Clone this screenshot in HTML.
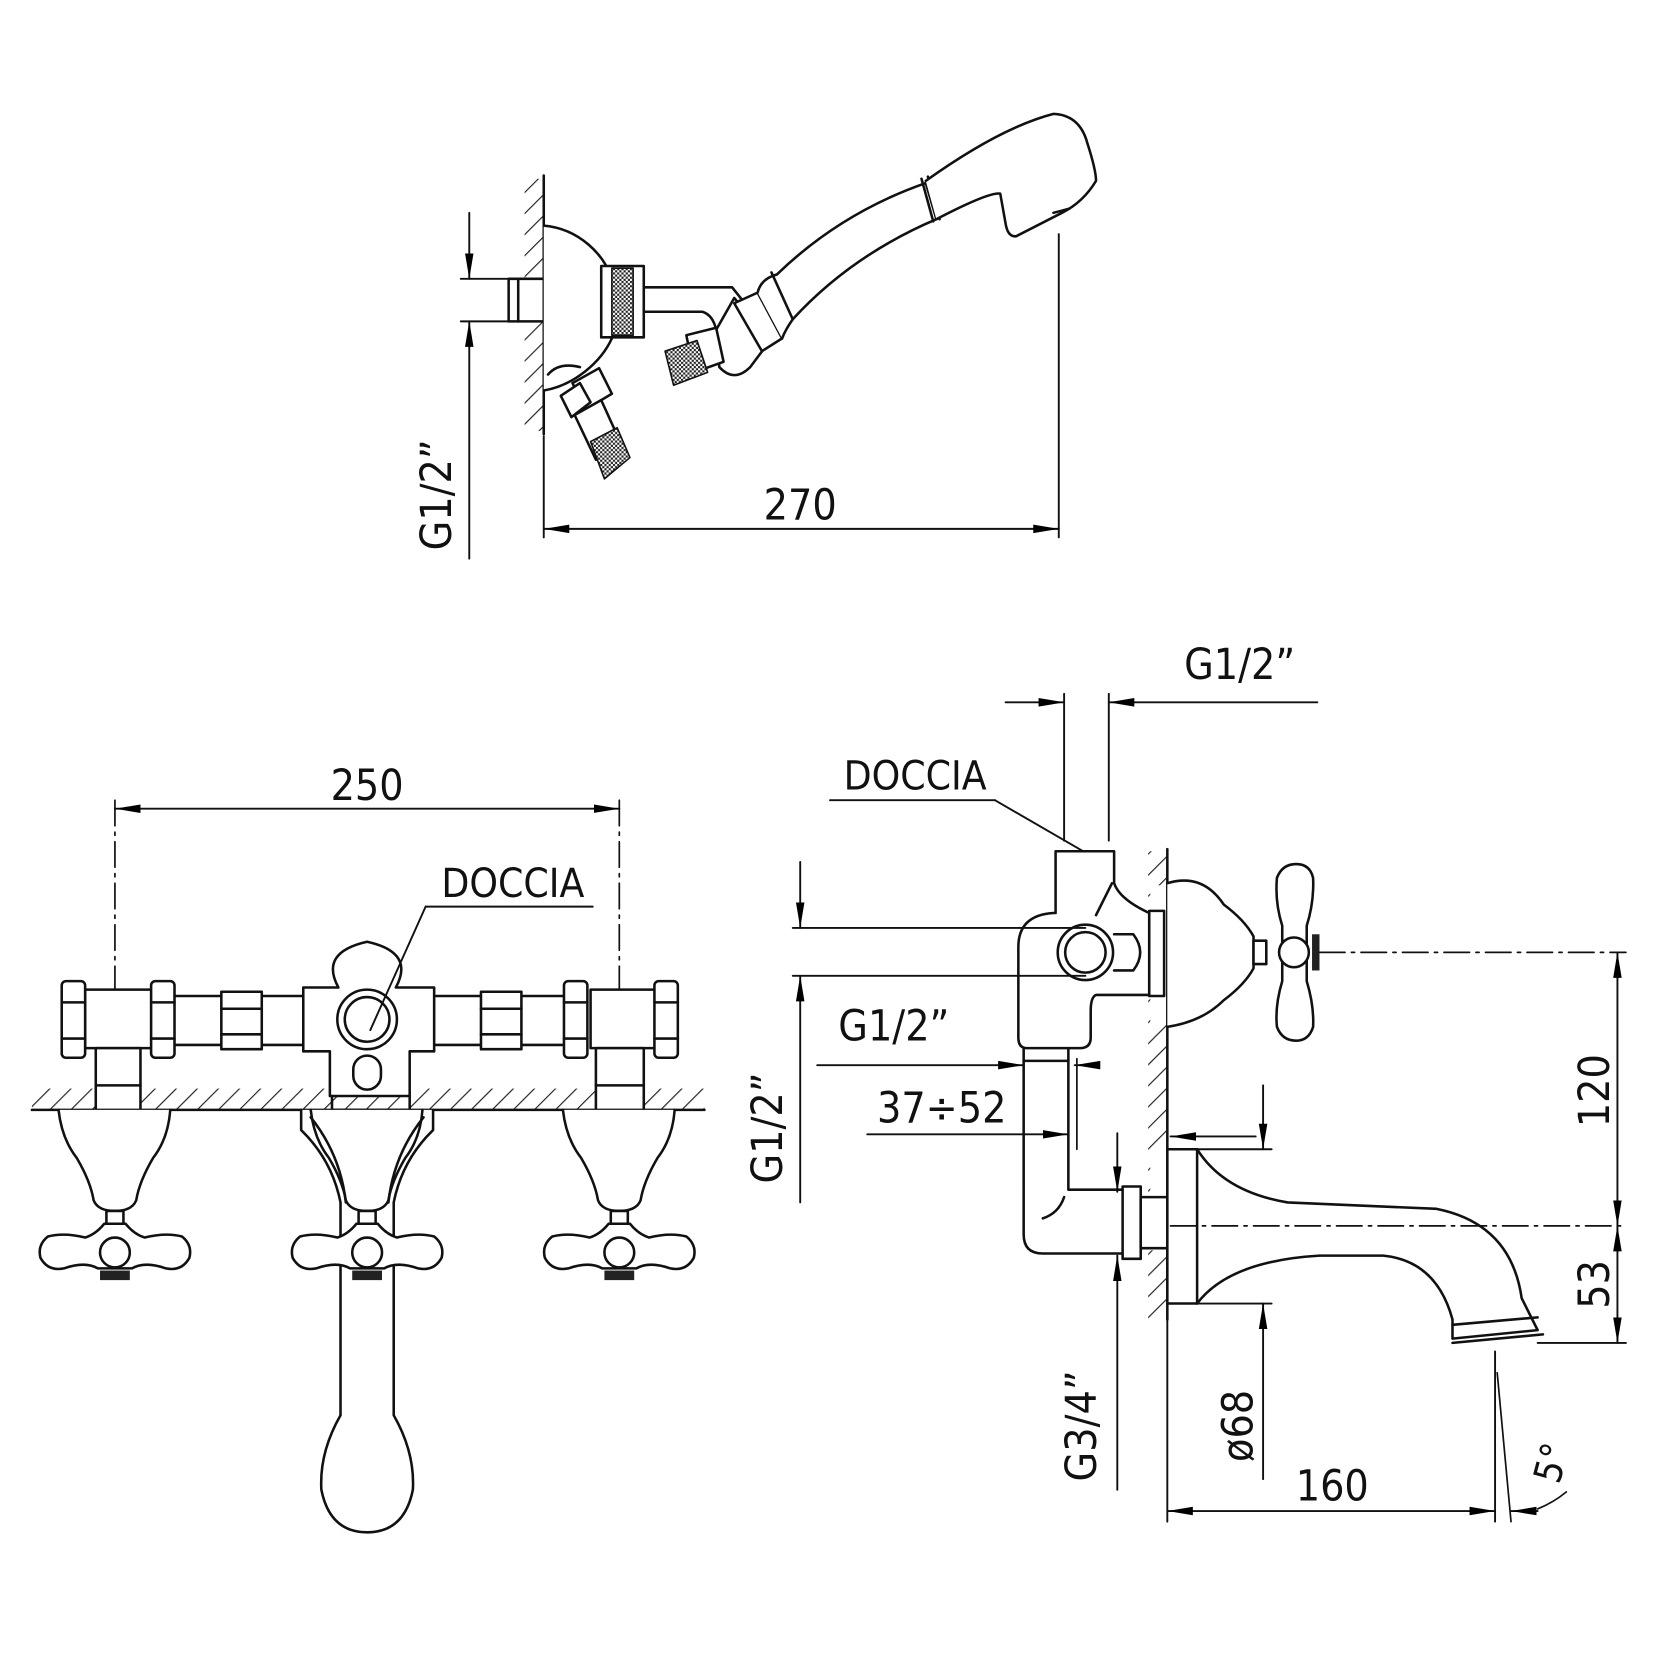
<!DOCTYPE html>
<html><head><meta charset="utf-8"><style>
html,body{margin:0;padding:0;background:#fff}
svg{display:block}
text{font-family:"DejaVu Sans Condensed","Liberation Sans",sans-serif;fill:#111}
</style></head><body>
<svg width="1660" height="1660" viewBox="0 0 1560 1560" xmlns="http://www.w3.org/2000/svg">
<defs>
<marker id="a" viewBox="0 0 24 10" refX="24" refY="5" markerWidth="24" markerHeight="10" markerUnits="userSpaceOnUse" orient="auto-start-reverse"><path d="M0,1 L24,5 L0,9z" fill="#000"/></marker>
<pattern id="h" width="14" height="14" patternUnits="userSpaceOnUse" patternTransform="rotate(45)"><line x1="0" y1="0" x2="0" y2="14" stroke="#222" stroke-width="2.2"/></pattern>
<pattern id="thr" width="4" height="4" patternUnits="userSpaceOnUse"><rect width="4" height="4" fill="#fff"/><rect width="2" height="2" fill="#222"/><rect x="2" y="2" width="2" height="2" fill="#222"/></pattern>
</defs>
<g fill="none" stroke="#111" stroke-width="2.4" stroke-linejoin="round" stroke-linecap="round">

<!-- ============ TOP VIEW ============ -->
<rect x="493" y="168" width="18" height="237" fill="url(#h)" stroke="none"/>
<line x1="511" y1="165" x2="511" y2="408"/>
<!-- G1/2 dim -->
<line x1="441" y1="200" x2="441" y2="262" marker-end="url(#a)" stroke-width="1.8"/>
<line x1="441" y1="525" x2="441" y2="302" marker-end="url(#a)" stroke-width="1.8"/>
<line x1="433" y1="262" x2="478" y2="262" stroke-width="1.8"/>
<line x1="433" y1="302" x2="478" y2="302" stroke-width="1.8"/>
<rect x="478" y="262" width="33" height="40" fill="#fff"/>
<line x1="487" y1="262" x2="487" y2="302"/>
<!-- dome -->
<path d="M511,212 C545,215 568,240 575,262 L575,318 C565,340 540,362 511,367" fill="#fff"/>
<!-- nut -->
<rect x="565" y="250" width="40" height="67" fill="#fff"/>
<rect x="575" y="252" width="20" height="63" fill="url(#thr)" stroke-width="1.5"/>
<!-- arm -->
<path d="M605,270 L688,270 L700,285 M605,293 L660,293 Q670,296 673,310"/>
<!-- elbow -->
<path d="M673,310 L676,345 Q690,360 705,345 L720,325 L700,292 L690,280 Z" fill="#fff"/>
<path d="M690,285 L712,275 L735,318 L716,330 Z" fill="#fff"/>
<!-- threaded stub -->
<path d="M645,315 L673,308 L680,340 L652,350 Z" fill="#fff"/>
<path d="M625,330 L655,320 L665,350 L633,362 Z" fill="url(#thr)" stroke-width="1.5"/>
<!-- handle -->
<path d="M712,275 Q715,262 730,258 Q790,200 870,172 L880,206 Q800,240 745,300 Q738,310 735,318" fill="#fff"/>
<line x1="725" y1="256" x2="745" y2="300"/>
<path d="M866,168 L877,208 M872,166 L883,206"/>
<path d="M870,170 Q940,120 990,107 Q1015,108 1022,135 Q1030,160 1030,170 Q1018,190 998,200 L955,222 Q947,223 945,210 L940,182 Q930,180 880,206" fill="#fff"/>
<path d="M990,200 Q998,198 1005,196"/>
<!-- lower connector -->
<path d="M538,360 L563,346 L575,370 L550,385 Z" fill="#fff"/>
<path d="M527,372 L545,360 L555,378 L537,392 Z" fill="#fff"/>
<path d="M515,352 Q525,340 545,345"/>
<path d="M540,390 L565,376 L585,420 L560,432 Z" fill="#fff"/>
<path d="M555,415 L580,402 L592,430 L568,450 Z" fill="url(#thr)" stroke-width="1.5"/>
<!-- 270 dim -->
<line x1="995" y1="220" x2="995" y2="505" stroke-width="1.8"/>
<line x1="511" y1="410" x2="511" y2="505" stroke-width="1.8"/>
<line x1="511" y1="497" x2="995" y2="497" marker-start="url(#a)" marker-end="url(#a)" stroke-width="1.8"/>

<!-- ============ BOTTOM LEFT ============ -->
<line x1="108" y1="752" x2="108" y2="1043" stroke-width="1.6" stroke-dasharray="24,6,3,6"/>
<line x1="582" y1="752" x2="582" y2="1043" stroke-width="1.6" stroke-dasharray="24,6,3,6"/>
<line x1="108" y1="760" x2="582" y2="760" marker-start="url(#a)" marker-end="url(#a)" stroke-width="1.8"/>
<!-- wall -->
<rect x="30" y="1023" width="632" height="20" fill="url(#h)" stroke="none"/>
<line x1="30" y1="1043" x2="662" y2="1043"/>
<!-- pipes -->
<rect x="160" y="936" width="128" height="46" fill="#fff"/>
<rect x="405" y="936" width="130" height="46" fill="#fff"/>
<rect x="208" y="932" width="38" height="54" fill="#fff"/>
<rect x="452" y="932" width="38" height="54" fill="#fff"/>
<line x1="208" y1="948" x2="246" y2="948"/><line x1="208" y1="972" x2="246" y2="972"/>
<line x1="452" y1="948" x2="490" y2="948"/><line x1="452" y1="972" x2="490" y2="972"/>
<!-- left valve -->
<rect x="80" y="930" width="65" height="55" fill="#fff"/>
<rect x="58" y="922" width="22" height="72" rx="4" fill="#fff"/>
<rect x="142" y="922" width="22" height="72" rx="4" fill="#fff"/>
<line x1="58" y1="942" x2="80" y2="942"/><line x1="58" y1="976" x2="80" y2="976"/>
<line x1="142" y1="942" x2="164" y2="942"/><line x1="142" y1="976" x2="164" y2="976"/>
<rect x="90" y="985" width="42" height="58" fill="#fff"/>
<line x1="90" y1="1020" x2="132" y2="1020"/>
<!-- right valve -->
<rect x="555" y="930" width="65" height="55" fill="#fff"/>
<rect x="530" y="922" width="22" height="72" rx="4" fill="#fff"/>
<rect x="615" y="922" width="22" height="72" rx="4" fill="#fff"/>
<line x1="530" y1="942" x2="552" y2="942"/><line x1="530" y1="976" x2="552" y2="976"/>
<line x1="615" y1="942" x2="637" y2="942"/><line x1="615" y1="976" x2="637" y2="976"/>
<rect x="560" y="985" width="45" height="58" fill="#fff"/>
<line x1="560" y1="1020" x2="605" y2="1020"/>
<!-- central body -->
<path d="M318,928 Q300,895 345,885 Q390,895 372,928 L408,928 L408,988 L385,988 L385,1030 L310,1030 L310,988 L285,988 L285,928 Z" fill="#fff"/>
<path d="M312,1030 L312,1043 L385,1043 L385,1030"/>
<circle cx="345" cy="958" r="28" fill="#fff"/>
<circle cx="345" cy="958" r="21"/>
<rect x="332" y="992" width="26" height="32" rx="13"/>
<!-- DOCCIA leader -->
<line x1="400" y1="852" x2="557" y2="852" stroke-width="1.8"/>
<line x1="400" y1="852" x2="348" y2="968" stroke-width="1.8"/>
<!-- escutcheons & handles -->
<g id="hnd">
<path d="M55,1043 Q58,1070 72,1088 Q85,1110 88,1128 Q92,1138 108,1138 Q124,1138 128,1128 Q131,1110 144,1088 Q158,1070 160,1043" fill="#fff"/>
<rect x="100" y="1138" width="16" height="12" fill="#fff"/>
<path d="M98,1150 Q90,1160 80,1163 Q60,1158 45,1162 Q35,1170 38,1182 Q45,1195 60,1192 Q80,1185 92,1192 L124,1192 Q136,1185 156,1192 Q171,1195 178,1182 Q181,1170 171,1162 Q156,1158 136,1163 Q126,1160 118,1150 Z" fill="#fff"/>
<circle cx="108" cy="1177" r="14" fill="#fff"/>
<rect x="94" y="1194" width="28" height="9" fill="#222" stroke="none"/>
</g>
<use href="#hnd" x="474"/>
<!-- centre spout -->
<path d="M283,1043 L283,1062 Q312,1090 320,1130 L320,1330 Q300,1365 302,1400 Q310,1440 345,1440 Q380,1440 388,1400 Q390,1365 370,1330 L370,1130 Q378,1090 407,1062 L407,1043" fill="#fff"/>
<path d="M292,1050 Q320,1085 325,1130 M398,1050 Q370,1085 365,1130"/>
<g transform="translate(237,0)">
<path d="M55,1043 Q58,1070 72,1088 Q85,1110 88,1128 Q92,1138 108,1138 Q124,1138 128,1128 Q131,1110 144,1088 Q158,1070 160,1043" fill="none"/>
<rect x="100" y="1138" width="16" height="12" fill="#fff"/>
<path d="M98,1150 Q90,1160 80,1163 Q60,1158 45,1162 Q35,1170 38,1182 Q45,1195 60,1192 Q80,1185 92,1192 L124,1192 Q136,1185 156,1192 Q171,1195 178,1182 Q181,1170 171,1162 Q156,1158 136,1163 Q126,1160 118,1150 Z" fill="#fff"/>
<circle cx="108" cy="1177" r="14" fill="#fff"/>
<rect x="94" y="1194" width="28" height="9" fill="#222" stroke="none"/>
</g>

<!-- ============ RIGHT VIEW ============ -->
<!-- top G1/2 dim -->
<line x1="945" y1="660" x2="1000" y2="660" marker-end="url(#a)" stroke-width="1.8"/>
<line x1="1238" y1="660" x2="1042" y2="660" marker-end="url(#a)" stroke-width="1.8"/>
<line x1="1000" y1="652" x2="1000" y2="790" stroke-width="1.8"/>
<line x1="1042" y1="652" x2="1042" y2="790" stroke-width="1.8"/>
<!-- DOCCIA -->
<line x1="780" y1="752" x2="935" y2="752" stroke-width="1.8"/>
<line x1="935" y1="752" x2="1018" y2="800" stroke-width="1.8"/>
<!-- wall -->
<rect x="1079" y="800" width="18" height="440" fill="url(#h)" stroke="none"/>
<rect x="1081" y="832" width="18" height="130" fill="#fff" stroke="none"/>
<rect x="1081" y="1080" width="18" height="95" fill="#fff" stroke="none"/>
<line x1="1097" y1="798" x2="1097" y2="1240"/>
<!-- body -->
<path d="M992,800 L1047,800 L1047,830 Q1052,845 1080,858 L1080,935 L1030,935 Q1025,937 1025,950 L1025,975 Q1025,985 1015,985 L965,985 Q957,985 957,975 L957,890 Q957,860 990,858 L992,858 Z" fill="#fff"/>
<rect x="1080" y="856" width="14" height="80" fill="#fff"/>
<circle cx="1020" cy="895" r="26" fill="#fff"/>
<circle cx="1020" cy="895" r="19"/>
<path d="M1047,878 L1065,878 Q1078,895 1065,912 L1047,912"/>
<line x1="1030" y1="860" x2="1045" y2="830"/>
<!-- long dims -->
<line x1="745" y1="872" x2="1020" y2="872" stroke-width="1.8"/>
<line x1="745" y1="917" x2="1020" y2="917" stroke-width="1.8"/>
<line x1="752" y1="810" x2="752" y2="872" marker-end="url(#a)" stroke-width="1.8"/>
<line x1="752" y1="1130" x2="752" y2="917" marker-end="url(#a)" stroke-width="1.8"/>
<!-- 37/52 -->
<line x1="768" y1="1001" x2="962" y2="1001" marker-end="url(#a)" stroke-width="1.8"/>
<line x1="1033" y1="1001" x2="1010" y2="1001" marker-end="url(#a)" stroke-width="1.8"/>
<line x1="815" y1="1066" x2="1004" y2="1066" marker-end="url(#a)" stroke-width="1.8"/>
<line x1="1012" y1="995" x2="1012" y2="1080" stroke-width="1.6"/>
<!-- down pipe -->
<path d="M962,985 L962,1160 Q962,1178 980,1178 L1055,1178 M1004,985 L1004,1118 L1055,1118" fill="none"/>
<line x1="962" y1="997" x2="1004" y2="997"/>
<path d="M1000,1125 Q995,1140 980,1145"/>
<rect x="1055" y="1115" width="17" height="68" fill="#fff"/>
<rect x="1072" y="1125" width="25" height="48" fill="#fff"/>
<!-- G3/4 dim -->
<line x1="1050" y1="1065" x2="1050" y2="1120" marker-end="url(#a)" stroke-width="1.8"/>
<line x1="1050" y1="1400" x2="1050" y2="1180" marker-end="url(#a)" stroke-width="1.8"/>
<!-- escutcheon top + cross -->
<path d="M1097,830 Q1130,820 1150,850 Q1170,865 1178,880 L1178,910 Q1170,925 1150,940 Q1130,960 1097,965" fill="#fff"/>
<rect x="1178" y="884" width="12" height="22" fill="#fff"/>
<path d="M1205,870 Q1198,848 1200,825 Q1205,812 1218,812 Q1231,812 1234,825 Q1235,848 1228,870 L1228,922 Q1235,945 1234,965 Q1230,978 1218,978 Q1205,978 1200,965 Q1198,945 1205,922 Z" fill="#fff"/>
<circle cx="1216" cy="895" r="14" fill="#fff"/>
<rect x="1233" y="878" width="7" height="34" fill="#222" stroke="none"/>
<line x1="1240" y1="895" x2="1528" y2="895" stroke-width="1.6" stroke-dasharray="24,6,3,6"/>
<!-- spout -->
<rect x="1097" y="1080" width="28" height="145" fill="#fff"/>
<path d="M1125,1080 Q1150,1120 1210,1130 L1350,1136 Q1420,1150 1430,1220 L1445,1250 L1365,1258 L1365,1240 Q1350,1185 1300,1180 L1240,1180 Q1155,1185 1125,1225"/>
<path d="M1365,1245 L1445,1238 M1365,1262 L1450,1254"/>
<line x1="1100" y1="1152" x2="1528" y2="1152" stroke-width="1.6" stroke-dasharray="24,6,3,6"/>
<!-- spout dims -->
<line x1="1125" y1="1080" x2="1195" y2="1080" stroke-width="1.8"/>
<line x1="1180" y1="1068" x2="1100" y2="1068" marker-end="url(#a)" stroke-width="1.8"/>
<line x1="1187" y1="1020" x2="1187" y2="1080" marker-end="url(#a)" stroke-width="1.8"/>
<line x1="1125" y1="1225" x2="1195" y2="1225" stroke-width="1.8"/>
<line x1="1187" y1="1390" x2="1187" y2="1225" marker-end="url(#a)" stroke-width="1.8"/>
<!-- 120 / 53 -->
<line x1="1520" y1="895" x2="1520" y2="1152" marker-start="url(#a)" marker-end="url(#a)" stroke-width="1.8"/>
<line x1="1520" y1="1152" x2="1520" y2="1262" marker-start="url(#a)" marker-end="url(#a)" stroke-width="1.8"/>
<line x1="1445" y1="1262" x2="1528" y2="1262" stroke-width="1.8"/>
<!-- 160 -->
<line x1="1097" y1="1240" x2="1097" y2="1430" stroke-width="1.8"/>
<line x1="1405" y1="1270" x2="1405" y2="1430" stroke-width="1.8"/>
<line x1="1407" y1="1290" x2="1420" y2="1430" stroke-width="1.6"/>
<line x1="1097" y1="1420" x2="1405" y2="1420" marker-start="url(#a)" marker-end="url(#a)" stroke-width="1.8"/>
<line x1="1445" y1="1420" x2="1420" y2="1420" marker-end="url(#a)" stroke-width="1.8"/>
<path d="M1445,1418 Q1460,1412 1472,1402" stroke-width="1.6"/>
</g>

<!-- TEXT -->
<g font-size="40">
<text x="752" y="488" text-anchor="middle">270</text>
<text transform="translate(424,465) rotate(-90)" text-anchor="middle">G1/2”</text>
<text x="345" y="752" text-anchor="middle">250</text>
<text x="482" y="843" text-anchor="middle" font-size="38">DOCCIA</text>
<text x="1165" y="638" text-anchor="middle">G1/2”</text>
<text x="860" y="742" text-anchor="middle" font-size="38">DOCCIA</text>
<text x="840" y="978" text-anchor="middle">G1/2”</text>
<text x="885" y="1055" text-anchor="middle">37÷52</text>
<text transform="translate(735,1060) rotate(-90)" text-anchor="middle">G1/2”</text>
<text transform="translate(1030,1340) rotate(-90)" text-anchor="middle">G3/4”</text>
<text transform="translate(1177,1340) rotate(-90)" text-anchor="middle">ø68</text>
<text x="1252" y="1410" text-anchor="middle">160</text>
<text transform="translate(1512,1025) rotate(-90)" text-anchor="middle">120</text>
<text transform="translate(1512,1207) rotate(-90)" text-anchor="middle">53</text>
<text transform="translate(1470,1378) rotate(-75)" text-anchor="middle" font-size="36">5°</text>
</g>
</svg>
</body></html>
